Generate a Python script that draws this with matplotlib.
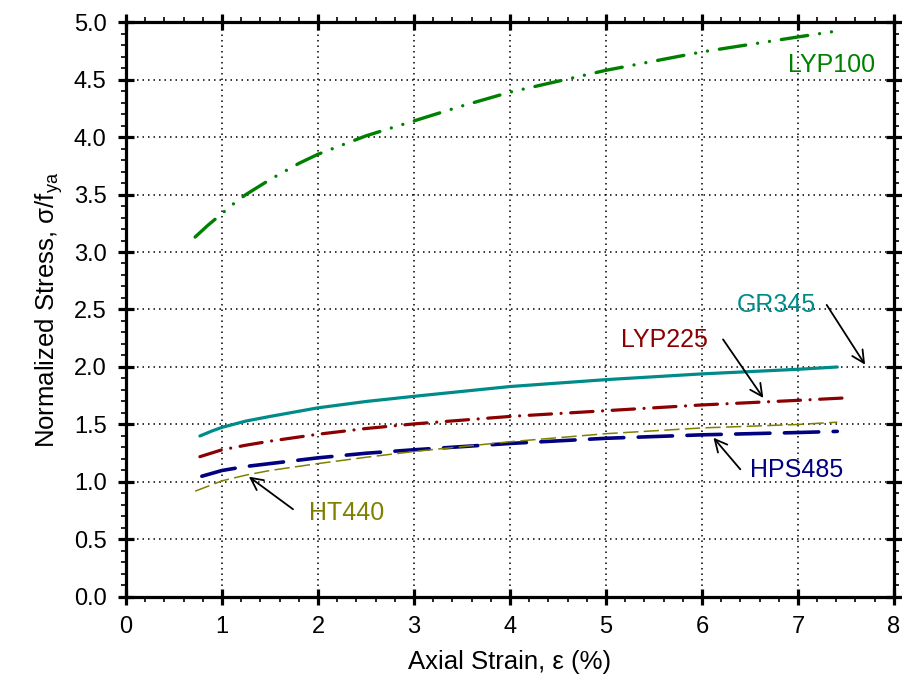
import matplotlib
matplotlib.use("Agg")
import matplotlib.pyplot as plt
from matplotlib.ticker import MultipleLocator, FormatStrFormatter

plt.rcParams['font.family'] = ['Liberation Sans', 'DejaVu Sans']

# curves (strain %, sigma/f_ya)
lyp100_x = [0.72, 0.85, 0.95, 1.05, 1.15, 1.25, 1.5, 1.8, 2.0, 2.5, 3.0, 3.5, 4.0, 5.0, 6.0, 7.0, 7.47]
lyp100_y = [3.13, 3.23, 3.30, 3.37, 3.44, 3.50, 3.63, 3.77, 3.85, 4.01, 4.14, 4.27, 4.39, 4.58, 4.74, 4.87, 4.93]

gr345_x = [0.77, 0.9, 1.0, 1.25, 1.5, 2.0, 2.5, 3.0, 4.0, 5.0, 6.0, 7.0, 7.41]
gr345_y = [1.40, 1.445, 1.475, 1.53, 1.57, 1.645, 1.70, 1.745, 1.83, 1.89, 1.94, 1.98, 2.00]

lyp225_x = [0.77, 1.0, 1.25, 1.5, 2.0, 2.5, 3.0, 4.0, 5.0, 6.0, 7.0, 7.47]
lyp225_y = [1.22, 1.28, 1.32, 1.355, 1.415, 1.465, 1.505, 1.57, 1.62, 1.67, 1.71, 1.73]

hps485_x = [0.79, 1.0, 1.25, 1.5, 2.0, 2.5, 3.0, 4.0, 5.0, 6.0, 7.0, 7.41]
hps485_y = [1.05, 1.10, 1.135, 1.16, 1.21, 1.25, 1.28, 1.335, 1.38, 1.41, 1.43, 1.44]

ht440_x = [0.72, 1.0, 1.25, 1.5, 2.0, 2.5, 3.0, 4.0, 5.0, 6.0, 7.0, 7.41]
ht440_y = [0.92, 1.01, 1.06, 1.10, 1.16, 1.215, 1.265, 1.35, 1.42, 1.47, 1.50, 1.52]

c_green = '#008000'
c_teal = '#008b8b'
c_red = '#8b0000'
c_navy = '#000080'
c_olive = '#808000'

fig = plt.figure(figsize=(9.02, 6.88), dpi=100)
ax = fig.add_axes([0.1397, 0.1323, 0.8513, 0.8357])

# curves
l, = ax.plot(lyp100_x, lyp100_y, color=c_green, lw=2.4,
             solid_capstyle='round', dash_capstyle='round')
l.set_dashes((8, 3.6, 0.01, 3.6, 0.01, 3.6))

ax.plot(gr345_x, gr345_y, color=c_teal, lw=2.3, solid_capstyle='round')

l, = ax.plot(lyp225_x, lyp225_y, color=c_red, lw=2.3, dash_capstyle='round')
l.set_dashes((7, 3.0, 0.01, 3.0))

l, = ax.plot(hps485_x, hps485_y, color=c_navy, lw=2.6, dash_capstyle='round')
l.set_dashes((9.5, 4.0))

l, = ax.plot(ht440_x, ht440_y, color=c_olive, lw=1.1)
l.set_dashes((10, 3.5))

# labels and arrows
fs_lab = 18
ax.text(7.35, 4.63, 'LYP100', color=c_green, fontsize=fs_lab, ha='center', va='center')
ax.text(6.78, 2.54, 'GR345', color=c_teal, fontsize=fs_lab, ha='center', va='center')
ax.text(5.61, 2.235, 'LYP225', color=c_red, fontsize=fs_lab, ha='center', va='center')
ax.text(6.99, 1.10, 'HPS485', color=c_navy, fontsize=fs_lab, ha='center', va='center')
ax.text(2.30, 0.73, 'HT440', color=c_olive, fontsize=fs_lab, ha='center', va='center')

ap = dict(arrowstyle='->', color='black', lw=1.3, mutation_scale=22, shrinkA=0, shrinkB=0)
ax.annotate('', xy=(7.70, 2.02), xytext=(7.30, 2.54), arrowprops=ap)
ax.annotate('', xy=(6.64, 1.73), xytext=(6.22, 2.24), arrowprops=ap)
ax.annotate('', xy=(6.12, 1.385), xytext=(6.40, 1.11), arrowprops=ap)
ax.annotate('', xy=(1.28, 1.046), xytext=(1.74, 0.763), arrowprops=ap)

ax.set_xlim(0, 8)
ax.set_ylim(0, 5)
ax.xaxis.set_major_locator(MultipleLocator(1))
ax.xaxis.set_minor_locator(MultipleLocator(0.2))
ax.yaxis.set_major_locator(MultipleLocator(0.5))
ax.yaxis.set_minor_locator(MultipleLocator(0.1))
ax.yaxis.set_major_formatter(FormatStrFormatter('%.1f'))

ax.grid(True, which='major', color='black', linestyle=(0, (1, 2.6)), lw=1.1)
for s in ax.spines.values():
    s.set_linewidth(2.3)
ax.tick_params(which='major', direction='inout', length=12, width=2.3,
               top=True, right=True, labelsize=17, pad=8)
ax.tick_params(which='minor', direction='out', length=3.5, width=1.2,
               top=True, right=True)

ax.set_xlabel('Axial Strain, \u03b5 (%)', fontsize=18.5, labelpad=8)
ax.set_ylabel('Normalized Stress, \u03c3/f$_{\\mathregular{ya}}$', fontsize=18.5, labelpad=6)

fig.savefig('out.png', dpi=100)
